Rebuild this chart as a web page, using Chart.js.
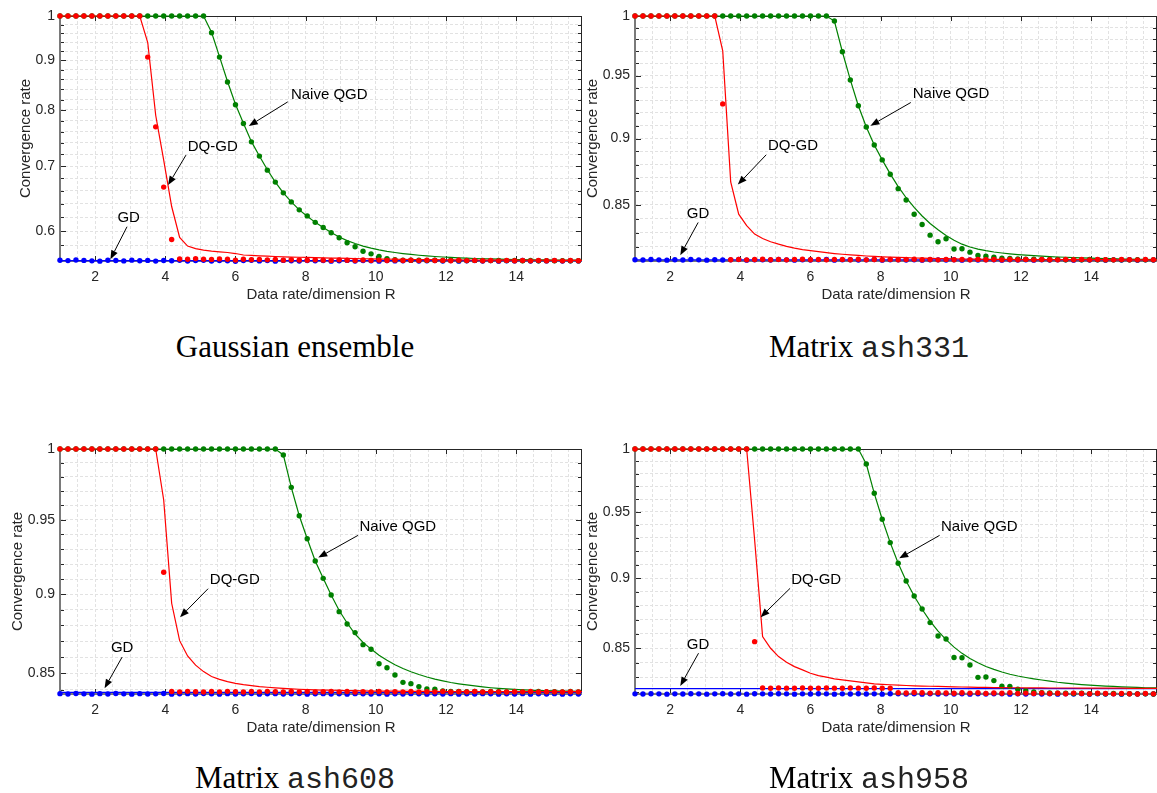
<!DOCTYPE html>
<html>
<head>
<meta charset="utf-8">
<script src="https://cdn.jsdelivr.net/npm/chart.js@4.4.0/dist/chart.umd.min.js"></script>
<style>
  html, body { margin: 0; padding: 0; background: #ffffff; }
  body { width: 1157px; height: 793px; position: relative; overflow: hidden; }
  canvas { position: absolute; }
  .cap { position: absolute; text-align: center; font-family: 'Liberation Serif', 'Times New Roman', serif; font-size: 31px; line-height: 34px; color: #000; }
  .cap .mono { font-family: 'Liberation Mono', 'Courier New', monospace; font-size: 30px; color: #222; }
</style>
</head>
<body>
<canvas id="c1" width="590" height="310" style="left:0px;top:0px"></canvas>
<canvas id="c2" width="579" height="310" style="left:578px;top:0px"></canvas>
<canvas id="c3" width="590" height="313" style="left:0px;top:430px"></canvas>
<canvas id="c4" width="579" height="313" style="left:578px;top:430px"></canvas>
<div class="cap" style="left:0px;width:590px;top:330px">Gaussian ensemble</div>
<div class="cap" style="left:578px;width:582px;top:330px">Matrix <span class="mono">ash331</span></div>
<div class="cap" style="left:0px;width:590px;top:761px">Matrix <span class="mono">ash608</span></div>
<div class="cap" style="left:578px;width:582px;top:761px">Matrix <span class="mono">ash958</span></div>
<script>
// ---------------- data ----------------
const R = [
  1.000, 1.227, 1.455, 1.682, 1.909, 2.136, 2.364, 2.591, 2.818, 3.045,
  3.273, 3.500, 3.727, 3.955, 4.182, 4.409, 4.636, 4.864, 5.091, 5.318,
  5.545, 5.773, 6.000, 6.227, 6.455, 6.682, 6.909, 7.136, 7.364, 7.591,
  7.818, 8.045, 8.273, 8.500, 8.727, 8.955, 9.182, 9.409, 9.636, 9.864,
  10.091, 10.318, 10.545, 10.773, 11.000, 11.227, 11.455, 11.682, 11.909, 12.136,
  12.364, 12.591, 12.818, 13.045, 13.273, 13.500, 13.727, 13.955, 14.182, 14.409,
  14.636, 14.864, 15.091, 15.318, 15.545, 15.773, 16.000
];
const gdLineR = [1, 16];

const xTicks = [1, 1.5, 2, 2.5, 3, 3.5, 4, 4.5, 5, 5.5, 6, 6.5, 7, 7.5, 8, 8.5, 9, 9.5, 10, 10.5, 11, 11.5, 12, 12.5, 13, 13.5, 14, 14.5, 15, 15.5];
const xLabels = ['', '', '2', '', '', '', '4', '', '', '', '6', '', '', '', '8', '', '', '', '10', '', '', '', '12', '', '', '', '14', '', '', ''];

const yTicksGauss = [1, 0.98, 0.96, 0.94, 0.92, 0.9, 0.88, 0.86, 0.84, 0.82, 0.8, 0.78, 0.76, 0.74, 0.72, 0.7, 0.68, 0.66, 0.64, 0.62, 0.6, 0.58, 0.56];
const yLabelsGauss = ['1', '', '', '', '', '0.9', '', '', '', '', '0.8', '', '', '', '', '0.7', '', '', '', '', '0.6', '', ''];
const yTicksMatrix = [1, 0.99, 0.98, 0.97, 0.96, 0.95, 0.94, 0.93, 0.92, 0.91, 0.9, 0.89, 0.88, 0.87, 0.86, 0.85, 0.84, 0.83, 0.82];
const yLabelsMatrix = ['1', '', '', '', '', '0.95', '', '', '', '', '0.9', '', '', '', '', '0.85', '', '', ''];

// ---- Gaussian ensemble ----
const gdDots1 = [
  0.5597, 0.5593, 0.5601, 0.5596, 0.5590, 0.5586, 0.5598, 0.5594, 0.5589, 0.5599,
  0.5592, 0.5596, 0.5587, 0.5595, 0.5591, 0.5598, 0.5588, 0.5594, 0.5597, 0.5587,
  0.5595, 0.5590, 0.5585, 0.5594, 0.5597, 0.5589, 0.5593, 0.5586, 0.5596, 0.5591,
  0.5588, 0.5595, 0.5590, 0.5594, 0.5586, 0.5592, 0.5596, 0.5588, 0.5593, 0.5590,
  0.5586, 0.5594, 0.5589, 0.5592, 0.5596, 0.5587, 0.5591, 0.5594, 0.5588, 0.5593,
  0.5586, 0.5591, 0.5595, 0.5588, 0.5593, 0.5586, 0.5590, 0.5589, 0.5594, 0.5587,
  0.5591, 0.5589, 0.5593, 0.5587, 0.5591, 0.5589, 0.5590
];
const gdLine1 = [0.5594, 0.5594];
const dqDots1 = [
  1, 1, 1, 1, 1, 1, 1, 1, 1, 1,
  1, 0.907, 0.7685, 0.666, 0.588, 0.5615, 0.5611, 0.5620, 0.5612, 0.5609,
  0.5616, 0.5611, 0.5600, 0.5612, 0.5606, 0.5609, 0.5603, 0.5607, 0.5599, 0.5605,
  0.5601, 0.5597, 0.5604, 0.5599, 0.5596, 0.5603, 0.5598, 0.5595, 0.5601, 0.5596,
  0.5600, 0.5594, 0.5599, 0.5595, 0.5598, 0.5593, 0.5598, 0.5594, 0.5596, 0.5591,
  0.5597, 0.5593, 0.5596, 0.5591, 0.5595, 0.5590, 0.5596, 0.5592, 0.5594, 0.5590,
  0.5595, 0.5591, 0.5594, 0.5590, 0.5595, 0.5592, 0.5593
];
const dqLine1 = [
  1, 1, 1, 1, 1, 1, 1, 1, 1, 1,
  1, 0.939, 0.79, 0.71, 0.636, 0.591, 0.579, 0.5755, 0.5735, 0.572,
  0.571, 0.5702, 0.5688, 0.5668, 0.5662, 0.5657, 0.5652, 0.5648, 0.5644, 0.5641,
  0.5638, 0.5635, 0.5632, 0.5630, 0.5627, 0.5625, 0.5622, 0.5620, 0.5618, 0.5616,
  0.5614, 0.5612, 0.5611, 0.5610, 0.5608, 0.5607, 0.5606, 0.5605, 0.5604, 0.5603,
  0.5602, 0.5601, 0.5601, 0.5600, 0.5600, 0.5599, 0.5599, 0.5599, 0.5598, 0.5598,
  0.5598, 0.5598, 0.5597, 0.5597, 0.5597, 0.5597, 0.5597
];
const naiveDots1 = [
  1, 1, 1, 1, 1, 1, 1, 1, 1, 1,
  1, 1, 1, 1, 1, 1, 1, 1, 1, 0.961,
  0.907, 0.855, 0.810, 0.7746, 0.7416, 0.7169, 0.6934, 0.674, 0.657, 0.643,
  0.631, 0.622, 0.6125, 0.605, 0.5975, 0.5906, 0.5836, 0.578, 0.5718, 0.5684,
  0.565, 0.562, 0.5606, 0.5600, 0.5597, 0.5599, 0.5596, 0.5598, 0.5595, 0.5597,
  0.5595, 0.5594, 0.5596, 0.5594, 0.5593, 0.5595, 0.5593, 0.5594, 0.5592, 0.5594,
  0.5592, 0.5593, 0.5591, 0.5593, 0.5591, 0.5592, 0.5591
];
const naiveLine1 = [
  1, 1, 1, 1, 1, 1, 1, 1, 1, 1,
  1, 1, 1, 1, 1, 1, 1, 1, 1, 0.962,
  0.908, 0.856, 0.811, 0.775, 0.742, 0.717, 0.694, 0.674, 0.657, 0.643,
  0.631, 0.6215, 0.6125, 0.605, 0.598, 0.5915, 0.5865, 0.5825, 0.579, 0.5762,
  0.5738, 0.5718, 0.5702, 0.5688, 0.5676, 0.5665, 0.5656, 0.5648, 0.5641, 0.5635,
  0.5630, 0.5625, 0.5621, 0.5618, 0.5615, 0.5612, 0.5610, 0.5608, 0.5606, 0.5604,
  0.5603, 0.5602, 0.5601, 0.5600, 0.5600, 0.5599, 0.5599
];

// ---- Matrix ash331 ----
const gdDots2 = [
  0.8109, 0.8107, 0.8110, 0.8108, 0.8106, 0.8109, 0.8107, 0.8110, 0.8108, 0.8106,
  0.8109, 0.8107, 0.8108, 0.8110, 0.8106, 0.8108, 0.8109, 0.8107, 0.8110, 0.8108,
  0.8106, 0.8109, 0.8107, 0.8108, 0.8110, 0.8106, 0.8108, 0.8109, 0.8107, 0.8108,
  0.8110, 0.8106, 0.8108, 0.8109, 0.8107, 0.8108, 0.8106, 0.8109, 0.8108, 0.8107,
  0.8109, 0.8106, 0.8108, 0.8107, 0.8109, 0.8108, 0.8106, 0.8108, 0.8107, 0.8109,
  0.8106, 0.8108, 0.8107, 0.8109, 0.8108, 0.8106, 0.8108, 0.8107, 0.8109, 0.8106,
  0.8108, 0.8107, 0.8109, 0.8106, 0.8108, 0.8107, 0.8108
];
const gdLine2 = [0.8108, 0.8108];
const dqDots2 = [
  1, 1, 1, 1, 1, 1, 1, 1, 1, 1,
  1, 0.9272, 0.8109, 0.8111, 0.8108, 0.8110, 0.8112, 0.8109, 0.8111, 0.8108,
  0.8110, 0.8112, 0.8109, 0.8111, 0.8108, 0.8110, 0.8111, 0.8109, 0.8112, 0.8108,
  0.8110, 0.8109, 0.8111, 0.8108, 0.8110, 0.8112, 0.8109, 0.8110, 0.8108, 0.8111,
  0.8109, 0.8110, 0.8108, 0.8111, 0.8109, 0.8110, 0.8108, 0.8110, 0.8109, 0.8111,
  0.8108, 0.8110, 0.8109, 0.8108, 0.8110, 0.8109, 0.8111, 0.8108, 0.8110, 0.8109,
  0.8108, 0.8110, 0.8109, 0.8108, 0.8110, 0.8109, 0.8108
];
const dqLine2 = [
  1, 1, 1, 1, 1, 1, 1, 1, 1, 1,
  1, 0.9705, 0.867, 0.8433, 0.835, 0.829, 0.8258, 0.8235, 0.8218, 0.8203,
  0.8190, 0.8180, 0.8172, 0.8165, 0.8158, 0.8152, 0.8147, 0.8143, 0.8139, 0.8135,
  0.8132, 0.8129, 0.8127, 0.8125, 0.8123, 0.8121, 0.8120, 0.8119, 0.8117, 0.8116,
  0.8115, 0.8114, 0.8113, 0.8113, 0.8112, 0.8112, 0.8111, 0.8111, 0.8110, 0.8110,
  0.8110, 0.8110, 0.8110, 0.8110, 0.8109, 0.8109, 0.8109, 0.8109, 0.8109, 0.8109,
  0.8108, 0.8108, 0.8108, 0.8108, 0.8108, 0.8108, 0.8108
];
const naiveDots2 = [
  1, 1, 1, 1, 1, 1, 1, 1, 1, 1,
  1, 1, 1, 1, 1, 1, 1, 1, 1, 1,
  1, 1, 1, 1, 1, 0.9957, 0.9697, 0.9465, 0.9257, 0.909,
  0.895, 0.8836, 0.8728, 0.862, 0.8536, 0.8432, 0.8358, 0.8282, 0.8235, 0.8256,
  0.8184, 0.8186, 0.8162, 0.8138, 0.8133, 0.8126, 0.8120, 0.8118, 0.8115, 0.8113,
  0.8112, 0.8111, 0.8110, 0.8111, 0.8109, 0.8110, 0.8109, 0.8110, 0.8108, 0.8109,
  0.8108, 0.8109, 0.8108, 0.8109, 0.8108, 0.8108, 0.8108
];
const naiveLine2 = [
  1, 1, 1, 1, 1, 1, 1, 1, 1, 1,
  1, 1, 1, 1, 1, 1, 1, 1, 1, 1,
  1, 1, 1, 1, 1, 0.9957, 0.9697, 0.9465, 0.9257, 0.909,
  0.895, 0.8836, 0.873, 0.8635, 0.8553, 0.8482, 0.842, 0.8366, 0.832, 0.828,
  0.8246, 0.8218, 0.8198, 0.8183, 0.8172, 0.8163, 0.8156, 0.815, 0.8145, 0.8141,
  0.8137, 0.8134, 0.8131, 0.8128, 0.8126, 0.8124, 0.8122, 0.812, 0.8118, 0.8117,
  0.8116, 0.8114, 0.8113, 0.8112, 0.8111, 0.811, 0.811
];

// ---- Matrix ash608 ----
const gdDots3 = [
  0.8375, 0.8373, 0.8376, 0.8374, 0.8372, 0.8375, 0.8373, 0.8376, 0.8374, 0.8372,
  0.8375, 0.8373, 0.8374, 0.8376, 0.8372, 0.8374, 0.8375, 0.8373, 0.8376, 0.8374,
  0.8372, 0.8375, 0.8373, 0.8374, 0.8376, 0.8372, 0.8374, 0.8375, 0.8373, 0.8374,
  0.8376, 0.8372, 0.8374, 0.8375, 0.8373, 0.8374, 0.8372, 0.8375, 0.8374, 0.8373,
  0.8375, 0.8372, 0.8374, 0.8373, 0.8375, 0.8374, 0.8372, 0.8374, 0.8373, 0.8375,
  0.8372, 0.8374, 0.8373, 0.8375, 0.8374, 0.8372, 0.8374, 0.8373, 0.8375, 0.8372,
  0.8374, 0.8373, 0.8375, 0.8372, 0.8374, 0.8373, 0.8374
];
const gdLine3 = [0.8383, 0.8383];
const dqDots3 = [
  1, 1, 1, 1, 1, 1, 1, 1, 1, 1,
  1, 1, 1, 0.9145, 0.8388, 0.8386, 0.8389, 0.8387, 0.8385, 0.8388,
  0.8386, 0.8389, 0.8387, 0.8385, 0.8388, 0.8386, 0.8389, 0.8387, 0.8385, 0.8388,
  0.8386, 0.8388, 0.8385, 0.8387, 0.8389, 0.8386, 0.8388, 0.8385, 0.8387, 0.8386,
  0.8388, 0.8385, 0.8387, 0.8386, 0.8388, 0.8385, 0.8387, 0.8386, 0.8388, 0.8385,
  0.8387, 0.8386, 0.8388, 0.8385, 0.8387, 0.8386, 0.8385, 0.8387, 0.8386, 0.8388,
  0.8385, 0.8387, 0.8386, 0.8385, 0.8387, 0.8386, 0.8386
];
const dqLine3 = [
  1, 1, 1, 1, 1, 1, 1, 1, 1, 1,
  1, 1, 1, 0.9637, 0.8942, 0.8703, 0.8607, 0.855, 0.851, 0.848,
  0.8462, 0.8448, 0.8438, 0.843, 0.8424, 0.8418, 0.8414, 0.841, 0.8407, 0.8404,
  0.8402, 0.84, 0.8398, 0.8397, 0.8396, 0.8395, 0.8394, 0.8393, 0.8392, 0.8391,
  0.839, 0.839, 0.839, 0.8389, 0.8389, 0.8389, 0.8389, 0.8389, 0.8388, 0.8388,
  0.8388, 0.8388, 0.8388, 0.8388, 0.8388, 0.8388, 0.8388, 0.8387, 0.8387, 0.8387,
  0.8387, 0.8387, 0.8387, 0.8387, 0.8387, 0.8387, 0.8387
];
const naiveDots3 = [
  1, 1, 1, 1, 1, 1, 1, 1, 1, 1,
  1, 1, 1, 1, 1, 1, 1, 1, 1, 1,
  1, 1, 1, 1, 1, 1, 1, 1, 0.9957, 0.9726,
  0.9528, 0.937, 0.922, 0.9105, 0.8996, 0.8888, 0.8809, 0.8754, 0.8678, 0.8649,
  0.8559, 0.8534, 0.8489, 0.8444, 0.8436, 0.8418, 0.8404, 0.8402, 0.8392, 0.8389,
  0.8388, 0.8387, 0.8389, 0.8386, 0.8388, 0.8387, 0.8386, 0.8388, 0.8387, 0.8386,
  0.8388, 0.8386, 0.8387, 0.8386, 0.8388, 0.8386, 0.8387
];
const naiveLine3 = [
  1, 1, 1, 1, 1, 1, 1, 1, 1, 1,
  1, 1, 1, 1, 1, 1, 1, 1, 1, 1,
  1, 1, 1, 1, 1, 1, 1, 1, 0.9957, 0.9726,
  0.9528, 0.937, 0.922, 0.9105, 0.8996, 0.8895, 0.8815, 0.8745, 0.8692, 0.865,
  0.8612, 0.858, 0.8552, 0.8529, 0.8509, 0.8492, 0.8477, 0.8464, 0.8453, 0.8443,
  0.8435, 0.8428, 0.8422, 0.8416, 0.8411, 0.8407, 0.8404, 0.8401, 0.8398, 0.8396,
  0.8394, 0.8393, 0.8392, 0.8391, 0.839, 0.8389, 0.8389
];

// ---- Matrix ash958 ----
const gdDots4 = [
  0.8190, 0.8189, 0.8191, 0.8190, 0.8188, 0.8190, 0.8189, 0.8191, 0.8190, 0.8188,
  0.8190, 0.8191, 0.8189, 0.8190, 0.8188, 0.8191, 0.8190, 0.8189, 0.8191, 0.8190,
  0.8188, 0.8190, 0.8189, 0.8191, 0.8190, 0.8188, 0.8190, 0.8189, 0.8191, 0.8189,
  0.8190, 0.8188, 0.8191, 0.8190, 0.8189, 0.8190, 0.8188, 0.8191, 0.8189, 0.8190,
  0.8189, 0.8191, 0.8188, 0.8190, 0.8189, 0.8191, 0.8190, 0.8188, 0.8190, 0.8189,
  0.8191, 0.8189, 0.8190, 0.8188, 0.8190, 0.8189, 0.8191, 0.8188, 0.8190, 0.8189,
  0.8190, 0.8188, 0.8190, 0.8189, 0.8190, 0.8189, 0.8190
];
const gdLine4 = [0.8225, 0.8225];
const dqDots4 = [
  1, 1, 1, 1, 1, 1, 1, 1, 1, 1,
  1, 1, 1, 1, 1, 0.8546, 0.8229, 0.8227, 0.8229, 0.8228,
  0.8227, 0.8229, 0.8228, 0.8227, 0.8229, 0.8228, 0.8227, 0.8229, 0.8228, 0.8227,
  0.8229, 0.8228, 0.8227, 0.8198, 0.8196, 0.8199, 0.8197, 0.8195, 0.8198, 0.8196,
  0.8194, 0.8197, 0.8195, 0.8198, 0.8193, 0.8196, 0.8194, 0.8197, 0.8192, 0.8195,
  0.8193, 0.8196, 0.8192, 0.8194, 0.8191, 0.8195, 0.8193, 0.8191, 0.8194, 0.8192,
  0.8190, 0.8193, 0.8191, 0.8189, 0.8192, 0.8190, 0.8191
];
const dqLine4 = [
  1, 1, 1, 1, 1, 1, 1, 1, 1, 1,
  1, 1, 1, 1, 1, 0.9285, 0.8581, 0.85, 0.8443, 0.8404,
  0.8374, 0.8352, 0.8329, 0.8313, 0.8302, 0.8291, 0.8284, 0.8277, 0.8271, 0.8264,
  0.8257, 0.8254, 0.8251, 0.8248, 0.8246, 0.8244, 0.8242, 0.8241, 0.824, 0.8238,
  0.8237, 0.8236, 0.8235, 0.8234, 0.8233, 0.8232, 0.8232, 0.8231, 0.8231, 0.8230,
  0.8230, 0.8230, 0.8229, 0.8229, 0.8229, 0.8229, 0.8228, 0.8228, 0.8228, 0.8228,
  0.8228, 0.8228, 0.8227, 0.8227, 0.8227, 0.8227, 0.8227
];
const naiveDots4 = [
  1, 1, 1, 1, 1, 1, 1, 1, 1, 1,
  1, 1, 1, 1, 1, 1, 1, 1, 1, 1,
  1, 1, 1, 1, 1, 1, 1, 1, 1, 0.9878,
  0.9645, 0.9443, 0.9265, 0.911, 0.898, 0.887, 0.8777, 0.868, 0.8586, 0.8565,
  0.8436, 0.8435, 0.8385, 0.8301, 0.8303, 0.8279, 0.8241, 0.824, 0.8221, 0.8211,
  0.8203, 0.8198, 0.8196, 0.8194, 0.8195, 0.8192, 0.8194, 0.8191, 0.8193, 0.8191,
  0.8192, 0.8190, 0.8191, 0.8190, 0.8191, 0.8189, 0.8190
];
const naiveLine4 = [
  1, 1, 1, 1, 1, 1, 1, 1, 1, 1,
  1, 1, 1, 1, 1, 1, 1, 1, 1, 1,
  1, 1, 1, 1, 1, 1, 1, 1, 1, 0.9878,
  0.9645, 0.9443, 0.9265, 0.911, 0.898, 0.887, 0.8775, 0.869, 0.862, 0.856,
  0.8508, 0.8465, 0.843, 0.84, 0.8375, 0.8355, 0.8337, 0.8322, 0.831, 0.83,
  0.8291, 0.8283, 0.8276, 0.8268, 0.8262, 0.8257, 0.8252, 0.8248, 0.8245, 0.8242,
  0.824, 0.8237, 0.8235, 0.8233, 0.8231, 0.823, 0.8229
];

// ---------------- styling / layout ----------------
const FONT = "'Liberation Sans', Arial, Helvetica, sans-serif";
const TXT = '#262626';
const RED = '#ff0000', GREEN = '#008000', BLUE = '#0000ff';

const panels = [
  { id: 'c1', yMin: 0.5588, yTicks: yTicksGauss, yLabels: yLabelsGauss, yWidth: 60, padTop: 16, padRight: 8, yTitlePad: 17,
    gdDots: gdDots1, gdLine: gdLine1, dqDots: dqDots1, dqLine: dqLine1, naiveDots: naiveDots1, naiveLine: naiveLine1,
    notes: [
      { text: 'Naive QGD', tx: 7.58, ty: 0.830, x0: 7.49, y0: 0.8155, x1: 6.38, y1: 0.770 },
      { text: 'DQ-GD', tx: 4.64, ty: 0.733, x0: 4.59, y0: 0.7186, x1: 4.08, y1: 0.6692 },
      { text: 'GD', tx: 2.635, ty: 0.6188, x0: 2.91, y0: 0.6062, x1: 2.436, y1: 0.561 }
    ] },
  { id: 'c2', yMin: 0.8107, yTicks: yTicksMatrix, yLabels: yLabelsMatrix, yWidth: 57, padTop: 16, padRight: 0, yTitlePad: 6,
    gdDots: gdDots2, gdLine: gdLine2, dqDots: dqDots2, dqLine: dqLine2, naiveDots: naiveDots2, naiveLine: naiveLine2,
    notes: [
      { text: 'Naive QGD', tx: 8.915, ty: 0.9352, x0: 8.86, y0: 0.9283, x1: 7.71, y1: 0.910 },
      { text: 'DQ-GD', tx: 4.79, ty: 0.894, x0: 4.74, y0: 0.8875, x1: 3.93, y1: 0.865 },
      { text: 'GD', tx: 2.475, ty: 0.8432, x0: 2.80, y0: 0.8373, x1: 2.29, y1: 0.8141 }
    ] },
  { id: 'c3', yMin: 0.8373, yTicks: yTicksMatrix, yLabels: yLabelsMatrix, yWidth: 60, padTop: 19, padRight: 8, yTitlePad: 8.5,
    gdDots: gdDots3, gdLine: gdLine3, dqDots: dqDots3, dqLine: dqLine3, naiveDots: naiveDots3, naiveLine: naiveLine3,
    notes: [
      { text: 'Naive QGD', tx: 9.535, ty: 0.945, x0: 9.49, y0: 0.9393, x1: 8.36, y1: 0.9243 },
      { text: 'DQ-GD', tx: 5.27, ty: 0.9094, x0: 5.22, y0: 0.9037, x1: 4.42, y1: 0.8852 },
      { text: 'GD', tx: 2.45, ty: 0.8655, x0: 2.77, y0: 0.860, x1: 2.27, y1: 0.8408 }
    ] },
  { id: 'c4', yMin: 0.8189, yTicks: yTicksMatrix, yLabels: yLabelsMatrix, yWidth: 57, padTop: 19, padRight: 0, yTitlePad: 6,
    gdDots: gdDots4, gdLine: gdLine4, dqDots: dqDots4, dqLine: dqLine4, naiveDots: naiveDots4, naiveLine: naiveLine4,
    notes: [
      { text: 'Naive QGD', tx: 9.72, ty: 0.9384, x0: 9.68, y0: 0.932, x1: 8.53, y1: 0.9147 },
      { text: 'DQ-GD', tx: 5.45, ty: 0.8987, x0: 5.42, y0: 0.8926, x1: 4.58, y1: 0.8718 },
      { text: 'GD', tx: 2.475, ty: 0.8523, x0: 2.81, y0: 0.8466, x1: 2.29, y1: 0.8243 }
    ] }
];

// frame: MATLAB style box, inward tick marks
const framePlugin = {
  id: 'frame',
  beforeDatasetsDraw(chart) {
    const { ctx, chartArea: a, scales: { x, y } } = chart;
    ctx.save();
    ctx.strokeStyle = TXT;
    ctx.lineWidth = 1;
    ctx.beginPath();
    x.ticks.forEach(t => {
      if (!t.label) return;
      const px = Math.round(x.getPixelForValue(t.value)) + 0.5;
      ctx.moveTo(px, a.top); ctx.lineTo(px, a.top + 5);
      ctx.moveTo(px, a.bottom); ctx.lineTo(px, a.bottom - 5);
    });
    y.ticks.forEach(t => {
      const len = t.label ? 6 : 4;
      const py = Math.round(y.getPixelForValue(t.value)) + 0.5;
      ctx.moveTo(a.left, py); ctx.lineTo(a.left + len, py);
      ctx.moveTo(a.right, py); ctx.lineTo(a.right - len, py);
    });
    ctx.moveTo(a.left, a.top + 0.5); ctx.lineTo(a.right, a.top + 0.5);
    ctx.moveTo(a.right - 0.5, a.top); ctx.lineTo(a.right - 0.5, a.bottom);
    ctx.stroke();
    ctx.strokeStyle = '#7a7a7a';
    ctx.lineWidth = 2;
    ctx.beginPath();
    ctx.moveTo(a.left, a.top); ctx.lineTo(a.left, a.bottom); ctx.lineTo(a.right, a.bottom);
    ctx.stroke();
    ctx.restore();
  }
};

// text arrows
const arrowPlugin = {
  id: 'arrows',
  afterDatasetsDraw(chart, args, opts) {
    const { ctx, scales: { x, y } } = chart;
    ctx.save();
    ctx.font = '15px ' + FONT;
    ctx.fillStyle = '#000';
    ctx.strokeStyle = '#000';
    ctx.lineWidth = 1;
    ctx.textAlign = 'left';
    ctx.textBaseline = 'middle';
    (opts.items || []).forEach(n => {
      ctx.fillText(n.text, x.getPixelForValue(n.tx), y.getPixelForValue(n.ty));
      const ax = x.getPixelForValue(n.x0), ay = y.getPixelForValue(n.y0);
      const bx = x.getPixelForValue(n.x1), by = y.getPixelForValue(n.y1);
      const ang = Math.atan2(by - ay, bx - ax);
      const hl = 9, hw = 3.5;
      const cx = bx - hl * Math.cos(ang), cy = by - hl * Math.sin(ang);
      ctx.beginPath();
      ctx.moveTo(ax, ay); ctx.lineTo(cx, cy);
      ctx.stroke();
      ctx.beginPath();
      ctx.moveTo(bx, by);
      ctx.lineTo(cx + hw * Math.sin(ang), cy - hw * Math.cos(ang));
      ctx.lineTo(cx - hw * Math.sin(ang), cy + hw * Math.cos(ang));
      ctx.closePath();
      ctx.fill();
    });
    ctx.restore();
  }
};

function pts(xs, ys) { return xs.map((v, i) => ({ x: v, y: ys[i] })); }
const CLIP = { left: 5, top: 5, right: 0, bottom: 5 };
function dotSet(xs, ys, color) {
  return { data: pts(xs, ys), showLine: false, pointRadius: 2.7, pointHoverRadius: 2.7, pointBorderWidth: 0,
           pointBackgroundColor: color, borderColor: color, backgroundColor: color, clip: CLIP };
}
function lineSet(xs, ys, color) {
  return { data: pts(xs, ys), showLine: true, pointRadius: 0, borderWidth: 1.2, borderColor: color,
           backgroundColor: color, tension: 0, fill: false, clip: CLIP };
}

panels.forEach(p => {
  const lookup = (vals, labels, v) => {
    const i = vals.findIndex(t => Math.abs(t - v) < 1e-9);
    return i < 0 ? '' : labels[i];
  };
  new Chart(document.getElementById(p.id), {
    type: 'line',
    data: {
      datasets: [
        dotSet(R, p.dqDots, RED),
        lineSet(R, p.dqLine, RED),
        dotSet(R, p.naiveDots, GREEN),
        lineSet(R, p.naiveLine, GREEN),
        dotSet(R, p.gdDots, BLUE),
        lineSet(gdLineR, p.gdLine, BLUE)
      ]
    },
    options: {
      responsive: false,
      animation: false,
      devicePixelRatio: 1,
      events: [],
      layout: { autoPadding: false, padding: { left: 0, right: p.padRight, top: p.padTop, bottom: 0 } },
      plugins: {
        legend: { display: false },
        tooltip: { enabled: false },
        arrows: { items: p.notes }
      },
      scales: {
        x: {
          type: 'linear', min: 1, max: 15.875,
          afterBuildTicks: s => { s.ticks = xTicks.map(v => ({ value: v })); },
          afterFit: s => { s.height = 49; },
          ticks: { autoSkip: false, maxRotation: 0, padding: 8, color: TXT,
                   font: { family: FONT, size: 14 },
                   callback: v => lookup(xTicks, xLabels, v) },
          grid: { color: '#e2e2e2', lineWidth: 1, drawTicks: false },
          border: { display: false, dash: [3, 2] },
          title: { display: true, text: 'Data rate/dimension R', color: TXT,
                   font: { family: FONT, size: 15 }, padding: { top: 0, bottom: 6 } }
        },
        y: {
          type: 'logarithmic', min: p.yMin, max: 1,
          afterBuildTicks: s => { s.ticks = p.yTicks.filter(v => v >= p.yMin - 1e-9).map(v => ({ value: v })); },
          afterFit: s => { s.width = p.yWidth; },
          ticks: { autoSkip: false, padding: 5, color: TXT,
                   font: { family: FONT, size: 14 },
                   callback: v => lookup(p.yTicks, p.yLabels, v) },
          grid: { color: '#e2e2e2', lineWidth: 1, drawTicks: false },
          border: { display: false, dash: [3, 2] },
          title: { display: true, text: 'Convergence rate', color: TXT,
                   font: { family: FONT, size: 15 }, padding: { top: p.yTitlePad, bottom: 0 } }
        }
      }
    },
    plugins: [framePlugin, arrowPlugin]
  });
});
</script>
</body>
</html>
